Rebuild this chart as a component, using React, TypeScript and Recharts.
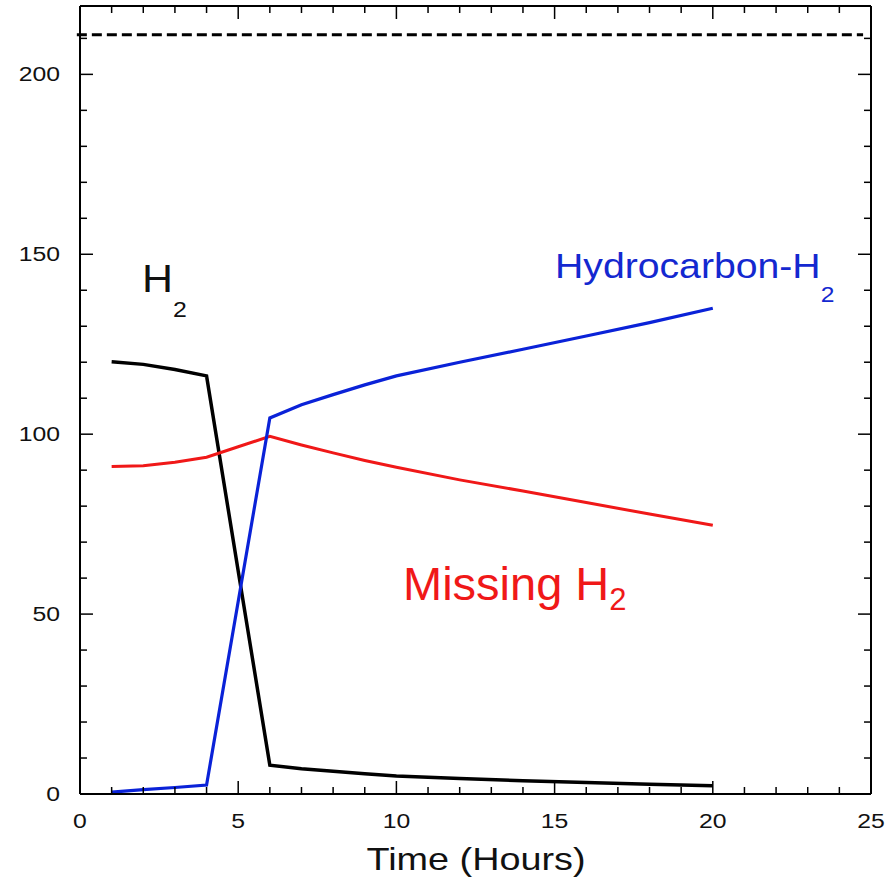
import React from "react";
import { LineChart, Line, XAxis, YAxis, ReferenceLine } from "recharts";

const TIME = [1, 2, 3, 4, 5, 6, 7, 8, 9, 10, 12, 14, 16, 18, 20];
const H2 = [120.1, 119.4, 118.0, 116.2, 62.0, 8.0, 7.0, 6.3, 5.6, 5.0, 4.3, 3.7, 3.2, 2.7, 2.3];
const HYDROCARBON_H2 = [0.5, 1.2, 1.8, 2.5, 53.5, 104.5, 108.2, 111.0, 113.7, 116.2, 120.0, 123.6, 127.3, 131.0, 135.0];
const MISSING_H2 = [91.0, 91.2, 92.2, 93.6, 96.5, 99.4, 97.0, 94.8, 92.7, 90.8, 87.3, 84.2, 81.0, 77.8, 74.7];
const LIMIT = 211;
const LIMIT_RANGE = [-0.1, 24.75];

const X_TICKS = Array.from({ length: 26 }, (_, i) => i);
const Y_TICKS = Array.from({ length: 22 }, (_, i) => i * 10);
const X_MAJOR_STEP = 5;
const Y_MAJOR_STEP = 50;

const data = TIME.map((t, i) => ({
  t,
  h2: H2[i],
  hc: HYDROCARBON_H2[i],
  miss: MISSING_H2[i],
}));

const FONT = "'Liberation Sans', Arial, Helvetica, sans-serif";
const MAJOR = 13;
const MINOR = 7;
const TS = 0.01;

const BottomTick = (props: any) => {
  const { x, y, payload } = props;
  const major = payload.value % X_MAJOR_STEP === 0;
  return (
    <g>
      <line x1={x} y1={y} x2={x} y2={y - (major ? MAJOR : MINOR)} stroke="#000" strokeWidth={1.5} />
      {major && (
        <text
          transform={`translate(${x},${y + 34}) scale(1.18,1)`}
          textAnchor="middle"
          fontSize={21}
          fontFamily={FONT}
          fill="#111"
        >
          {payload.value}
        </text>
      )}
    </g>
  );
};

const TopTick = (props: any) => {
  const { x, y, payload } = props;
  const major = payload.value % X_MAJOR_STEP === 0;
  return <line x1={x} y1={y} x2={x} y2={y + (major ? MAJOR : MINOR)} stroke="#000" strokeWidth={1.5} />;
};

const LeftTick = (props: any) => {
  const { x, y, payload } = props;
  const major = payload.value % Y_MAJOR_STEP === 0;
  return (
    <g>
      <line x1={x} y1={y} x2={x + (major ? MAJOR : MINOR)} y2={y} stroke="#000" strokeWidth={1.5} />
      {major && (
        <text
          transform={`translate(${x - 20},${y + 7}) scale(1.18,1)`}
          textAnchor="end"
          fontSize={21}
          fontFamily={FONT}
          fill="#111"
        >
          {payload.value}
        </text>
      )}
    </g>
  );
};

const RightTick = (props: any) => {
  const { x, y, payload } = props;
  const major = payload.value % Y_MAJOR_STEP === 0;
  return <line x1={x} y1={y} x2={x - (major ? MAJOR : MINOR)} y2={y} stroke="#000" strokeWidth={1.5} />;
};

const Label = ({
  x,
  y,
  main,
  sub,
  size,
  subSize,
  subDy,
  color,
  sx,
}: {
  x: number;
  y: number;
  main: string;
  sub: string;
  size: number;
  subSize: number;
  subDy: number;
  color: string;
  sx: number;
}) => (
  <text transform={`translate(${x},${y}) scale(${sx},1)`} fontFamily={FONT} fill={color} fontSize={size}>
    {main}
    <tspan fontSize={subSize} dy={subDy}>
      {sub}
    </tspan>
  </text>
);

export default function App() {
  return (
    <div style={{ position: "relative", width: 891, height: 885, background: "#fff" }}>
      <style>{`body{margin:0;}`}</style>
      <LineChart width={891} height={885} data={data} margin={{ top: 5, right: 19, bottom: 0, left: 0 }}>
        <XAxis
          xAxisId="b"
          dataKey="t"
          type="number"
          domain={[0, 25]}
          ticks={X_TICKS}
          interval={0}
          height={91}
          tickSize={TS}
          tickMargin={TS}
          tickLine={false}
          tick={<BottomTick />}
          axisLine={{ stroke: "#000", strokeWidth: 2 }}
          allowDataOverflow
        />
        <XAxis
          xAxisId="t"
          orientation="top"
          dataKey="t"
          type="number"
          domain={[0, 25]}
          ticks={X_TICKS}
          interval={0}
          height={1}
          tickSize={TS}
          tickMargin={TS}
          tickLine={false}
          tick={<TopTick />}
          axisLine={{ stroke: "#000", strokeWidth: 2 }}
          allowDataOverflow
        />
        <YAxis
          yAxisId="l"
          type="number"
          domain={[0, 219]}
          ticks={Y_TICKS}
          interval={0}
          width={80}
          tickSize={TS}
          tickMargin={TS}
          tickLine={false}
          tick={<LeftTick />}
          axisLine={{ stroke: "#000", strokeWidth: 2 }}
          allowDataOverflow
        />
        <YAxis
          yAxisId="r"
          orientation="right"
          type="number"
          domain={[0, 219]}
          ticks={Y_TICKS}
          interval={0}
          width={1}
          tickSize={TS}
          tickMargin={TS}
          tickLine={false}
          tick={<RightTick />}
          axisLine={{ stroke: "#000", strokeWidth: 2 }}
          allowDataOverflow
        />
        <ReferenceLine
          xAxisId="b"
          yAxisId="l"
          segment={[
            { x: LIMIT_RANGE[0], y: LIMIT },
            { x: LIMIT_RANGE[1], y: LIMIT },
          ]}
          stroke="#000"
          strokeWidth={3}
          strokeDasharray="10 5"
          ifOverflow="visible"
        />
        <Line
          xAxisId="b"
          yAxisId="l"
          dataKey="h2"
          type="linear"
          stroke="#000"
          strokeWidth={3.5}
          dot={false}
          isAnimationActive={false}
        />
        <Line
          xAxisId="b"
          yAxisId="l"
          dataKey="miss"
          type="linear"
          stroke="#f01818"
          strokeWidth={3}
          dot={false}
          isAnimationActive={false}
        />
        <Line
          xAxisId="b"
          yAxisId="l"
          dataKey="hc"
          type="linear"
          stroke="#0a22d8"
          strokeWidth={3.2}
          dot={false}
          isAnimationActive={false}
        />
      </LineChart>
      <svg width={891} height={885} style={{ position: "absolute", left: 0, top: 0, pointerEvents: "none" }}>
        <Label x={142} y={292} main="H" sub="2" size={38} subSize={22} subDy={25} color="#111" sx={1.13} />
        <Label x={555} y={278} main="Hydrocarbon-H" sub="2" size={35} subSize={22} subDy={24} color="#1428d0" sx={1.12} />
        <Label x={403} y={600} main="Missing H" sub="2" size={47} subSize={31} subDy={10} color="#f01818" sx={1.0} />
        <text transform="translate(476,870) scale(1.22,1)" textAnchor="middle" fontFamily={FONT} fontSize={31} fill="#111">
          Time (Hours)
        </text>
      </svg>
    </div>
  );
}
